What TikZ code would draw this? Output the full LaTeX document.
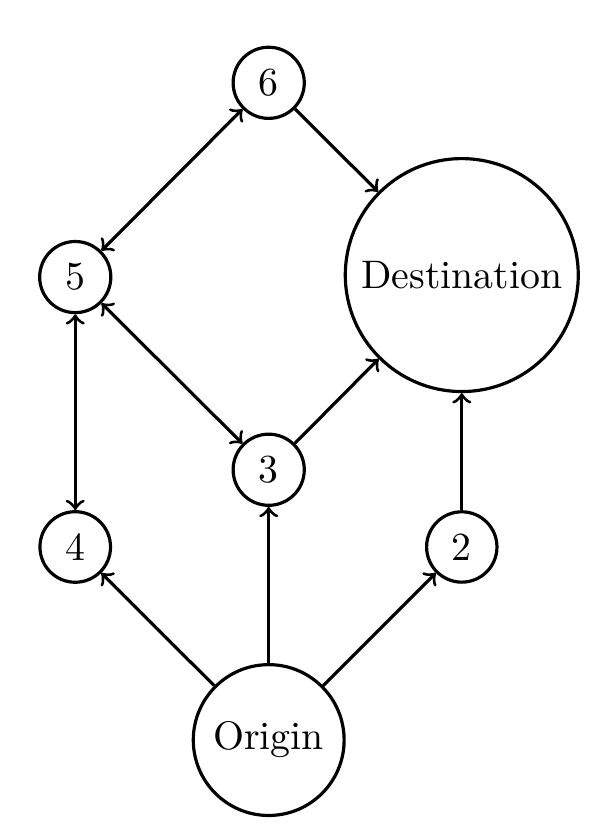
\documentclass[tikz,border=0pt]{standalone}
\begin{document}
\begin{tikzpicture}[every node/.style={circle,draw,thick}]
    \useasboundingbox (0,0) rectangle (149.2pt,209.5pt);
    % Nodes
    \node (n6) at (67.5pt,188.7pt) {6};
    \node (n5) at (18.9pt,139.9pt) {5};
    \node (dest) at (116.0pt,140.4pt) {Destination};
    \node (n3) at (67.5pt,91.5pt) {3};
    \node (n4) at (18.9pt,72.1pt) {4};
    \node (n2) at (116.0pt,72.1pt) {2};
    \node (orig) at (67.5pt,23.6pt) {Origin};

    % Arrows
    \draw[thick,<->] (n5) -- (n6);
    \draw[thick,->] (n6) -- (dest);
    \draw[thick,<->] (n5) -- (n4);
    \draw[thick,<->] (n5) -- (n3);
    \draw[thick,->] (n3) -- (dest);
    \draw[thick,->] (n2) -- (dest);
    \draw[thick,->] (orig) -- (n4);
    \draw[thick,->] (orig) -- (n3);
    \draw[thick,->] (orig) -- (n2);
\end{tikzpicture}
\end{document}
